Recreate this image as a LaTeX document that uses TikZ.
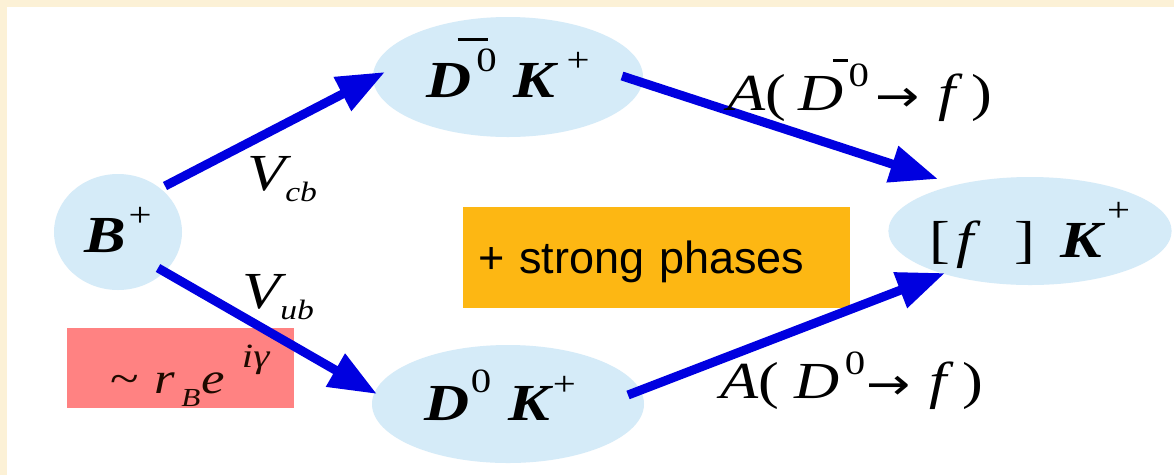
\documentclass[tikz,border=0pt]{standalone}
\usepackage{graphicx}
\usepackage{fontspec}
\setmainfont{Liberation Serif}
\newfontfamily\sansf{Liberation Sans}
\newfontfamily\symf{DejaVu Sans}
\usetikzlibrary{arrows.meta,shapes.geometric,calc}
\definecolor{cream}{HTML}{FCF1D6}
\definecolor{bub}{HTML}{D5EBF8}
\definecolor{arrblue}{HTML}{0000E0}
\definecolor{orng}{HTML}{FDB713}
\definecolor{pinkred}{HTML}{FF8282}
\definecolor{darktext}{HTML}{1E0A00}
\newcommand{\mainsz}{\fontsize{52}{58}\selectfont}
\newcommand{\supsz}{\fontsize{34}{38}\selectfont}
\newcommand{\subsz}{\fontsize{28}{32}\selectfont}
\newcommand{\hsc}[1]{\scalebox{1.2}[1]{#1}}
\newcommand{\supr}[2][0.5em]{\raisebox{#1}{\supsz\mdseries\upshape #2}}
\newcommand{\subr}[1]{\raisebox{-0.22em}{\subsz\itshape #1}}
\newcommand{\barD}[3]{\makebox[0pt][l]{\hspace{#1}\raisebox{#3}{\rule{#2}{0.06em}}}D}
\newcommand{\arrowglyph}{\raisebox{-0.02em}{\symf\fontsize{44}{48}\selectfont →}}
\tikzset{
  bubble/.style={ellipse, fill=bub, inner sep=0pt, font=\mainsz, text depth=0pt},
  arr/.style={draw=arrblue, line width=9pt, -{Triangle[length=48pt,width=36pt]}},
  lbl/.style={anchor=base west, inner sep=0pt, font=\mainsz},
}
\begin{document}
\begin{tikzpicture}[x=1pt,y=-1pt]
\useasboundingbox (0,0) rectangle (1174,475);
\fill[cream] (0,0) rectangle (1174,475);
\fill[white] (7,7) rectangle (1174,475);
% boxes
\node[rectangle, fill=orng, minimum width=387pt, minimum height=101pt, inner sep=0pt,
      text width=357pt, align=left, text height=32pt, text depth=0pt,
      font=\sansf\fontsize{45}{50}\selectfont] (strong) at (656.5,257.5) {+ strong phases};
\node[rectangle, fill=pinkred, minimum width=227pt, minimum height=80pt, inner sep=0pt] (rbox) at (180.5,368) {};
\node[anchor=base west, inner sep=0pt, text=darktext, font=\fontsize{44}{48}\selectfont] (rtext) at (110,393)
  {\hsc{\textasciitilde\hspace{0.3em}{\itshape r}\hspace{0.12em}\raisebox{-0.3em}{\fontsize{26}{28}\selectfont\itshape B}\hspace{0.02em}{\itshape e}\hspace{0.32em}\raisebox{0.57em}{\fontsize{34}{36}\selectfont\itshape iγ}}};
% particles
\node[bubble, minimum width=128pt, minimum height=116pt, text height=40pt] (B) at (118,232)
  {\hsc{{\bfseries\itshape B}\hspace{0.04em}\supr{+}}};
\node[bubble, minimum width=270pt, minimum height=120pt, text height=40pt] (Dbar) at (508,77)
  {\hsc{{\bfseries\itshape \barD{0.5em}{0.48em}{1.08em}}\hspace{0.08em}\supr{0}\hspace{0.27em}{\bfseries\itshape K}\hspace{0.18em}\supr{+}}};
\node[bubble, minimum width=272pt, minimum height=118pt, text height=32pt] (D0) at (508,404)
  {\hsc{{\bfseries\itshape D}\hspace{0.02em}\supr[0.52em]{0}\hspace{0.27em}{\bfseries\itshape K}\hspace{0.05em}\supr[0.47em]{+}\hspace{0.25em}}};
\node[bubble, minimum width=274pt, minimum height=108pt, text height=52pt] (F) at (1030,231)
  {\hsc{[\hspace{0.1em}{\itshape f}\hspace{0.65em}]\hspace{0.4em}{\bfseries\itshape K}\hspace{0.08em}\supr[0.68em]{+}}};
% arrows
\draw[arr] ($(B)+(47,-46)$) -- ($(Dbar)+(-123,-5)$);
\draw[arr] ($(B)+(40,36)$) -- ($(D0)+(-131,-10)$);
\draw[arr] ($(Dbar)+(114,-1)$) -- ($(F)+(-92,-52)$);
\draw[arr] ($(D0)+(120,-9)$) -- ($(F)+(-85,42)$);
% labels
\node[lbl] (vcb) at (247,190) {\hsc{{\itshape V}\subr{cb}}};
\node[lbl] (vub) at (242,308) {\hsc{{\itshape V}\subr{ub}}};
\node[lbl] (atop) at (727,110)
  {\hsc{{\itshape A}(\hspace{0.2em}{\itshape\barD{0.55em}{0.24em}{0.92em}}\hspace{0.08em}\supr[0.45em]{0}\hspace{0.1em}\arrowglyph\hspace{0.3em}{\itshape f}\hspace{0.25em})}};
\node[lbl] (abot) at (720,398)
  {\hsc{{\itshape A}(\hspace{0.25em}{\itshape D}\hspace{0.08em}\supr[0.45em]{0}\hspace{0.02em}\arrowglyph\hspace{0.3em}{\itshape f}\hspace{0.25em})}};
\end{tikzpicture}
\end{document}
